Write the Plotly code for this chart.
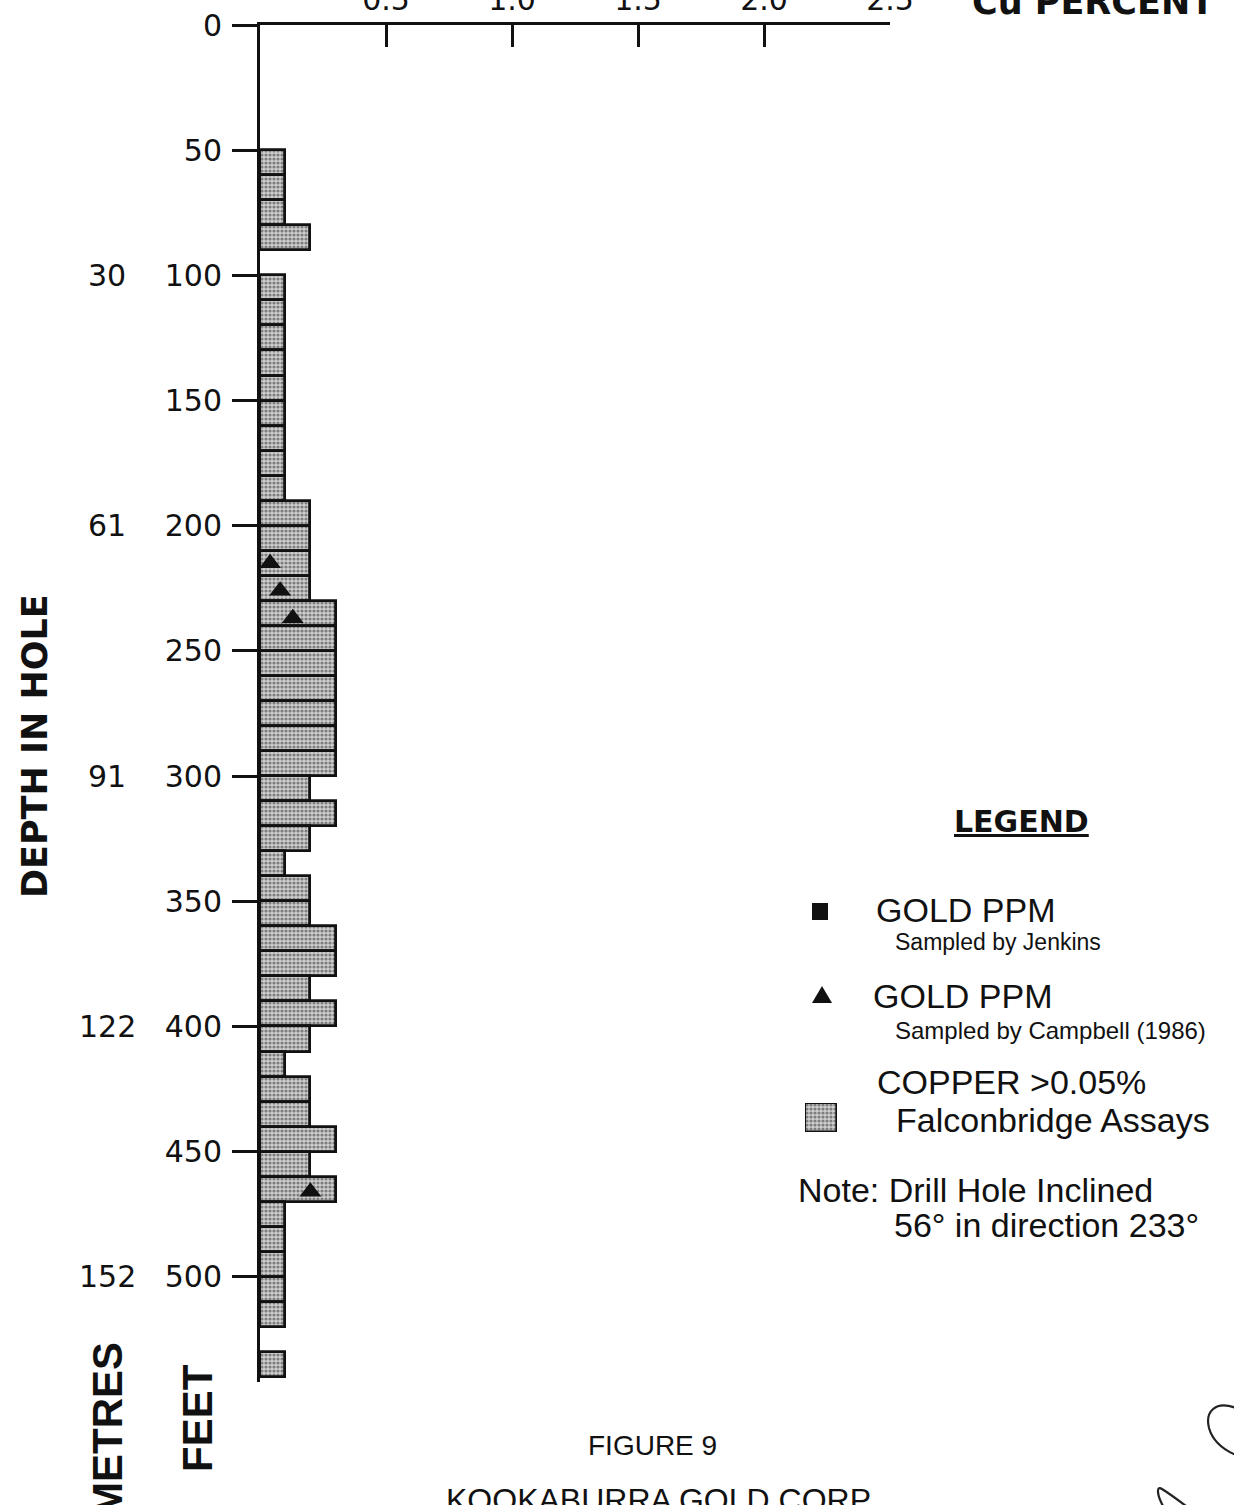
import plotly.graph_objects as go

# ---------------- data ----------------
depth_top_ft = [50, 60, 70, 80,
                100, 110, 120, 130, 140, 150, 160, 170, 180,
                190, 200, 210, 220,
                230, 240, 250, 260, 270, 280, 290,
                300, 310, 320, 330, 340, 350, 360, 370, 380, 390, 400, 410,
                420, 430, 440, 450, 460,
                470, 480, 490, 500, 510,
                530]
cu_percent = [0.1, 0.1, 0.1, 0.2,
              0.1, 0.1, 0.1, 0.1, 0.1, 0.1, 0.1, 0.1, 0.1,
              0.2, 0.2, 0.2, 0.2,
              0.3, 0.3, 0.3, 0.3, 0.3, 0.3, 0.3,
              0.2, 0.3, 0.2, 0.1, 0.2, 0.2, 0.3, 0.3, 0.2, 0.3, 0.2, 0.1,
              0.2, 0.2, 0.3, 0.2, 0.3,
              0.1, 0.1, 0.1, 0.1, 0.1,
              0.1]
interval_ft = 10

gold_campbell_depth_ft = [215, 226, 237, 466]
gold_campbell_ppm = [0.04, 0.08, 0.13, 0.20]

feet_ticks = [0, 50, 100, 150, 200, 250, 300, 350, 400, 450, 500]
metre_tick_ft = [100, 200, 300, 400, 500]
metre_tick_text = ["30", "61", "91", "122", "152"]
cu_ticks = [0.5, 1.0, 1.5, 2.0, 2.5]
cu_tick_text = ["0.5", "1.0", "1.5", "2.0", "2.5"]

# ---------------- page geometry (pixels) ----------------
W, H = 1234, 1505
PL, PR, PT, PB = 260, 890, 25, 1382   # plot area edges


def px(x):
    return (x - PL) / (PR - PL)


def py(y):
    return (PB - y) / (PB - PT)


bar_centres = [d + interval_ft / 2 for d in depth_top_ft]

stipple = dict(shape=".", fgcolor="#2b2b2b", bgcolor="#cfcfcf",
               size=4, solidity=0.5, fillmode="overlay")

fig = go.Figure()

fig.add_trace(go.Bar(
    x=cu_percent, y=bar_centres, base=0, width=interval_ft,
    orientation="h",
    marker=dict(color="#cfcfcf", pattern=stipple,
                line=dict(color="#111111", width=2.8)),
    name="COPPER >0.05% Falconbridge Assays",
))

fig.add_trace(go.Scatter(
    x=gold_campbell_ppm, y=gold_campbell_depth_ft, mode="markers",
    marker=dict(symbol="triangle-up", size=19, color="#111111"),
    name="GOLD PPM Sampled by Campbell (1986)",
))

# legend key for copper (stippled box) on a tiny overlay axis
fig.add_trace(go.Bar(
    x=[1], y=[0], base=0, width=1, orientation="h",
    xaxis="x2", yaxis="y2", cliponaxis=False,
    marker=dict(color="#cfcfcf", pattern=stipple,
                line=dict(color="#111111", width=2.6)),
    showlegend=False, hoverinfo="skip",
))

axis_font = dict(family="DejaVu Sans", size=30, color="#111111")

fig.update_layout(
    width=W, height=H,
    margin=dict(l=PL, r=W - PR, t=PT, b=H - PB, pad=0),
    paper_bgcolor="white", plot_bgcolor="white",
    showlegend=False,
    bargap=0,
    xaxis=dict(
        side="top", range=[0, 2.5], autorange=False,
        tickvals=cu_ticks, ticktext=cu_tick_text,
        ticks="inside", ticklen=22, tickwidth=2.5, tickcolor="#111111",
        showline=True, linewidth=3, linecolor="#111111",
        showgrid=False, zeroline=False, tickfont=axis_font,
        automargin=False, fixedrange=True,
    ),
    yaxis=dict(
        range=[542, 0], autorange=False,
        tickvals=feet_ticks,
        ticks="outside", ticklen=25, tickwidth=2.5, tickcolor="#111111",
        showline=True, linewidth=3, linecolor="#111111",
        showgrid=False, zeroline=False, tickfont=axis_font,
        ticklabelstandoff=4,
        automargin=False, fixedrange=True,
    ),
    xaxis2=dict(domain=[px(805), px(837)], range=[0, 1], visible=False,
                anchor="y2", fixedrange=True),
    yaxis2=dict(domain=[py(1132), py(1103)], range=[-0.5, 0.5], visible=False,
                anchor="x2", fixedrange=True),
)

ann = []

# metres labels, placed on the feet scale
for ft, t in zip(metre_tick_ft, metre_tick_text):
    ann.append(dict(x=px(107), xref="paper", y=ft, yref="y", text=t,
                    showarrow=False, xanchor="center", yanchor="middle",
                    font=axis_font))


def txt(x, y, text, size, family="Liberation Sans", xanchor="left",
        yanchor="middle", angle=0):
    ann.append(dict(x=px(x), y=py(y), xref="paper", yref="paper", text=text,
                    showarrow=False, xanchor=xanchor, yanchor=yanchor,
                    textangle=angle,
                    font=dict(family=family, size=size, color="#111111")))


txt(970, 2, "<b>Cu PERCENT</b>", 35, family="DejaVu Sans", yanchor="middle")
txt(35, 746, "<b>DEPTH IN HOLE</b>", 35, family="DejaVu Sans",
    xanchor="center", angle=-90)
txt(107, 1430, "<b>METRES</b>", 42, xanchor="center", angle=-90)
txt(197, 1418, "<b>FEET</b>", 42, xanchor="center", angle=-90)

txt(1021, 821, "<b><u>LEGEND</u></b>", 30, family="DejaVu Sans", xanchor="center")
txt(874, 910, "GOLD PPM", 34)
txt(893, 942, "Sampled by Jenkins", 23)
txt(871, 996, "GOLD PPM", 34)
txt(893, 1030, "Sampled by Campbell (1986)", 24)
txt(875, 1082, "COPPER &gt;0.05%", 34)
txt(894, 1120, "Falconbridge Assays", 34)
txt(796, 1190, "Note: Drill Hole Inclined", 34)
txt(892, 1225, "56° in direction 233°", 34)

txt(652, 1445, "FIGURE 9", 28, xanchor="center")
txt(661, 1500, "KOOKABURRA GOLD CORP.", 32, xanchor="center")

fig.update_layout(annotations=ann)

# legend keys and the pen mark
shapes = [
    dict(type="rect", xref="paper", yref="paper",
         x0=px(812), x1=px(828), y0=py(920), y1=py(903),
         fillcolor="#111111", line=dict(width=0)),
    dict(type="path", xref="paper", yref="paper",
         path=f"M {px(812)},{py(1003)} L {px(832)},{py(1003)} L {px(822)},{py(986)} Z",
         fillcolor="#111111", line=dict(width=0)),
    dict(type="path", xref="paper", yref="paper",
         path=(f"M {px(1236)},{py(1408)} C {px(1215)},{py(1400)} {px(1205)},{py(1412)} "
               f"{px(1209)},{py(1428)} C {px(1213)},{py(1442)} {px(1224)},{py(1450)} "
               f"{px(1236)},{py(1455)}"),
         line=dict(color="#222222", width=2.2)),
    dict(type="path", xref="paper", yref="paper",
         path=(f"M {px(1163)},{py(1506)} C {px(1157)},{py(1495)} {px(1156)},{py(1485)} "
               f"{px(1162)},{py(1489)} C {px(1170)},{py(1494)} {px(1178)},{py(1500)} "
               f"{px(1186)},{py(1506)}"),
         line=dict(color="#222222", width=2.2)),
]
fig.update_layout(shapes=shapes)

fig.write_html("out.html")
